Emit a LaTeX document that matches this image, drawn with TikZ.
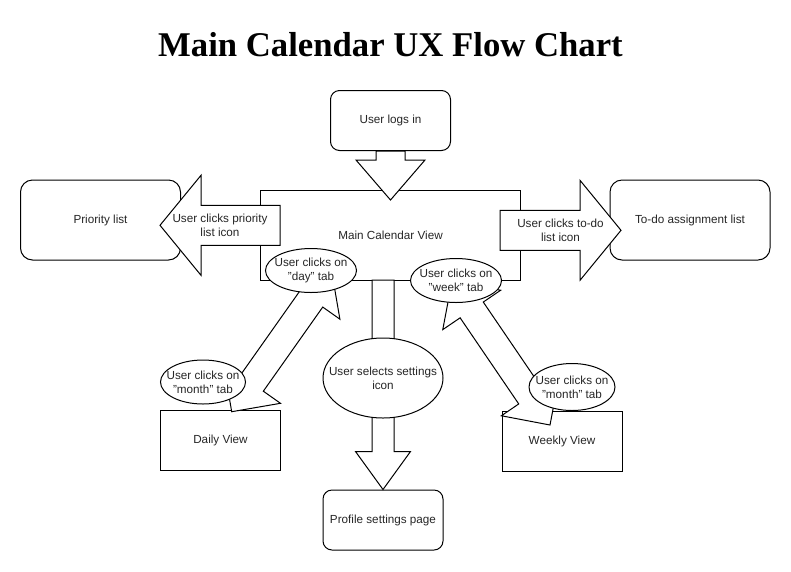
\documentclass[tikz,border=0pt]{standalone}
\usepackage{fontspec}
\setmainfont{Liberation Sans}
\newfontfamily\titlefont{Liberation Serif}
\usepackage{tikz}
\usetikzlibrary{calc, shapes.geometric}

\definecolor{txtgray}{HTML}{262626}

%Block arrow from #1 to #2: half shaft #3, half head #4, head length #5
\newcommand{\flexarrow}[5]{
  \coordinate (fbase) at ($(#2)!#5!(#1)$);
  \draw[flex] ($(#1)!#3!90:(#2)$) -- ($(fbase)!#3!90:(#2)$) -- ($(fbase)!#4!90:(#2)$) -- (#2)
    -- ($(fbase)!#4!-90:(#2)$) -- ($(fbase)!#3!-90:(#2)$) -- ($(#1)!#3!-90:(#2)$) -- cycle;
}
%Same with a head at both ends
\newcommand{\dflexarrow}[5]{
  \coordinate (fbase) at ($(#2)!#5!(#1)$);
  \coordinate (fback) at ($(#1)!#5!(#2)$);
  \draw[flex] (#1) -- ($(fback)!#4!90:(#2)$) -- ($(fback)!#3!90:(#2)$) -- ($(fbase)!#3!90:(#2)$)
    -- ($(fbase)!#4!90:(#2)$) -- (#2) -- ($(fbase)!#4!-90:(#2)$) -- ($(fbase)!#3!-90:(#2)$)
    -- ($(fback)!#3!-90:(#2)$) -- ($(fback)!#4!-90:(#2)$) -- cycle;
}

\begin{document}
\begin{tikzpicture}[x=1pt, y=-1pt, line width=1pt,
     box/.style={draw,fill=white,rectangle,minimum width=120pt,minimum height=60pt,inner sep=0pt,
                 align=center,text=txtgray,font=\fontsize{11.7}{14}\selectfont},
     rbox/.style={box,rounded corners=9pt},
     oval/.style={box,ellipse,inner sep=-30pt},
     flex/.style={draw,fill=white},
     tag/.style={align=center,text=txtgray,font=\fontsize{11.7}{14}\selectfont}
     ]
\useasboundingbox (0,0) rectangle (791,571);

%Title on top
\node[anchor=base,font=\fontsize{34.7}{40}\selectfont\titlefont\bfseries] (title) at (390.5,56.7) {Main Calendar UX Flow Chart};

%Boxes
\node[rbox] (login) at (390.5,120.5) {User logs in};
\node[box,minimum width=260pt,minimum height=90pt] (main) at (390.5,235) {Main Calendar View};
\node[rbox,rounded corners=12pt,minimum width=160pt,minimum height=80pt] (priority) at (100.5,220) {Priority list};
\node[rbox,rounded corners=12pt,minimum width=160pt,minimum height=80pt] (todo) at (690,220) {To-do assignment list};
\node[box] (daily) at (220.5,440) {Daily View};
\node[box] (weekly) at (562,441.5) {Weekly View};
\node[rbox] (profile) at (383,520) {Profile settings page};

%Ends of the block arrows
\coordinate (loginTip) at (390.5,200);
\coordinate (priorityTail) at (280,225.3);
\coordinate (priorityTip) at (160,225.3);
\coordinate (todoTail) at (500,230.3);
\coordinate (todoTip) at (621,230.3);
\coordinate (settingsTail) at (383,280);
\coordinate (dailyTip) at (231.7,411.7);
\coordinate (dayTip) at (331.5,270.4);
\coordinate (weekTip) at (452,281);
\coordinate (weeklyTip) at (550,425);

%Block arrows
\flexarrow{login.south}{loginTip}{14.5pt}{34.5pt}{40pt}
\flexarrow{priorityTail}{priorityTip}{20pt}{50pt}{41pt}
\flexarrow{todoTail}{todoTip}{20pt}{50pt}{41pt}
\flexarrow{settingsTail}{profile.north}{11pt}{27.5pt}{38pt}
\dflexarrow{dailyTip}{dayTip}{14pt}{35pt}{35pt}
\dflexarrow{weekTip}{weeklyTip}{14pt}{35pt}{35pt}

\node[tag] (priorityLbl) at ($(priorityTail)!.5!(priorityTip)$) {User clicks priority\\list icon};
\node[tag] (todoLbl) at ($(todoTail)!.5!(todoTip)$) {User clicks to-do\\list icon};

%Ellipses on top of the arrows
\node[oval,minimum width=91pt,minimum height=44pt] (day) at (311,270.5) {User clicks on\\"day" tab};
\node[oval,minimum width=91pt,minimum height=44pt] (week) at (456,280.5) {User clicks on\\"week" tab};
\node[oval,minimum width=120pt,minimum height=80pt] (settings) at (383,378) {User selects settings\\icon};
\node[oval,minimum width=85pt,minimum height=44pt] (monthL) at (203,382) {User clicks on\\"month" tab};
\node[oval,minimum width=86pt,minimum height=47pt] (monthR) at (572,387) {User clicks on\\"month" tab};
\end{tikzpicture}
\end{document}
